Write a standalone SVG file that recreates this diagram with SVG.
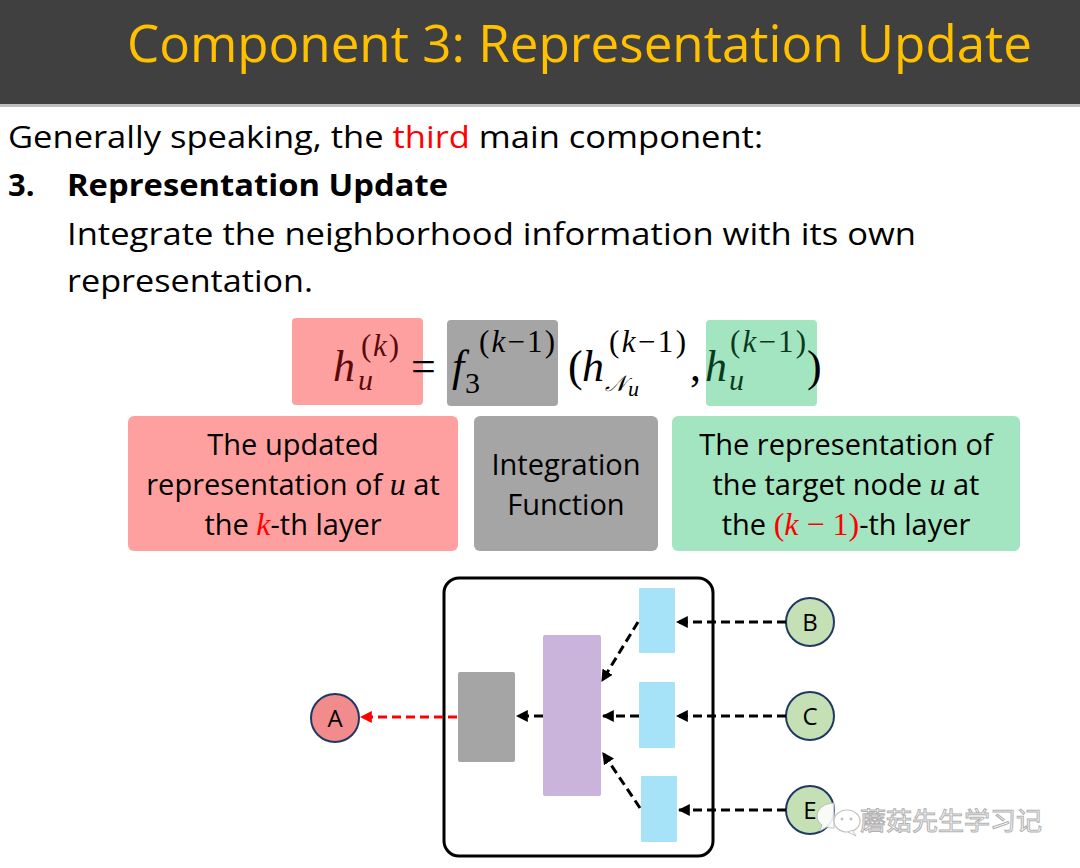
<svg xmlns="http://www.w3.org/2000/svg" width="1080" height="868" viewBox="0 0 1080 868">
<defs>
<style>
.sans{font-family:"Open Sans","Liberation Sans",sans-serif;}
.math{font-family:"Liberation Serif","DejaVu Serif",serif;font-style:italic;}
.up{font-family:"Liberation Serif","DejaVu Serif",serif;font-style:normal;}
.desc{font-family:"Open Sans","Liberation Sans",sans-serif;font-size:29px;fill:#000;text-anchor:middle;}
.dash{fill:none;stroke-width:3;stroke-dasharray:9 5;}
.blk{stroke:#000;}
.red{stroke:#FF0000;}
.blue{fill:#A6E3F8;}
.node{stroke:#1F3864;stroke-width:2;}
.lbl{font-family:"Open Sans","Liberation Sans",sans-serif;font-size:24px;text-anchor:middle;fill:#000;}
</style>
<marker id="ah" viewBox="0 0 10 10" refX="9" refY="5" markerWidth="4" markerHeight="4" orient="auto" markerUnits="strokeWidth">
<path d="M0,0 L10,5 L0,10 z" fill="#000"/>
</marker>
<marker id="ahr" viewBox="0 0 10 10" refX="9" refY="5" markerWidth="4" markerHeight="4" orient="auto" markerUnits="strokeWidth">
<path d="M0,0 L10,5 L0,10 z" fill="#FF0000"/>
</marker>
</defs>
<rect width="1080" height="868" fill="#FFFFFF"/>
<g id="header">
<rect x="0" y="0" width="1080" height="104" fill="#404040"/>
<rect x="0" y="104" width="1080" height="3" fill="#BFBFBF"/>
<text x="127" y="62" class="sans" font-size="52" fill="#FFC000" textLength="905" lengthAdjust="spacingAndGlyphs">Component 3: Representation Update</text>
</g>
<g id="body">
<text x="8" y="148" class="sans" font-size="31" fill="#000" textLength="755" lengthAdjust="spacingAndGlyphs">Generally speaking, the <tspan fill="#FF0000">third</tspan> main component:</text>
<text x="8" y="196" class="sans" font-size="31" font-weight="bold" fill="#000">3.</text>
<text x="67" y="196" class="sans" font-size="31" font-weight="bold" fill="#000" textLength="381" lengthAdjust="spacingAndGlyphs">Representation Update</text>
<text x="67" y="245" class="sans" font-size="31" fill="#000" textLength="849" lengthAdjust="spacingAndGlyphs">Integrate the neighborhood information with its own</text>
<text x="67" y="292" class="sans" font-size="31" fill="#000" textLength="246" lengthAdjust="spacingAndGlyphs">representation.</text>
</g>
<g id="formula">
<rect x="292" y="318" width="131" height="87" rx="4" fill="#FFA0A0"/>
<rect x="447" y="320" width="111" height="86" rx="4" fill="#A5A5A5"/>
<rect x="706" y="320" width="111" height="86" rx="4" fill="#A3E4C1"/>
<text class="math" font-size="44" fill="#5A0A0A" x="333" y="381">h</text>
<text class="math" font-size="30" fill="#5A0A0A" x="358" y="390">u</text>
<text class="math" font-size="31" fill="#5A0A0A" x="361" y="356" textLength="38"><tspan class="up">(</tspan>k<tspan class="up">)</tspan></text>
<text class="up" font-size="44" fill="#000" x="411" y="381">=</text>
<text class="math" font-size="44" fill="#000" x="452" y="381">f</text>
<text class="up" font-size="30" fill="#000" x="465" y="393">3</text>
<text class="math" font-size="31" fill="#000" x="479" y="352" textLength="76"><tspan class="up">(</tspan>k<tspan class="up">−1)</tspan></text>
<text class="up" font-size="44" fill="#000" x="568" y="381">(</text>
<text class="math" font-size="44" fill="#000" x="582" y="381">h</text>
<text class="math" font-size="22" fill="#000" x="605" y="391">𝒩</text>
<text class="math" font-size="22" fill="#000" x="628" y="396">u</text>
<text class="math" font-size="31" fill="#000" x="609" y="352" textLength="77"><tspan class="up">(</tspan>k<tspan class="up">−1)</tspan></text>
<text class="up" font-size="44" fill="#000" x="690" y="381">,</text>
<text class="math" font-size="44" fill="#0A3A1E" x="705" y="381">h</text>
<text class="math" font-size="30" fill="#0A3A1E" x="729" y="390">u</text>
<text class="math" font-size="31" fill="#0A3A1E" x="730" y="352" textLength="76"><tspan class="up">(</tspan>k<tspan class="up">−1)</tspan></text>
<text class="up" font-size="44" fill="#000" x="807" y="381">)</text>
</g>
<g id="desc-updated">
<rect x="128" y="416" width="330" height="135" rx="6" fill="#FFA0A0"/>
<text class="desc" x="293" y="455">The updated</text>
<text class="desc" x="293" y="495">representation of <tspan class="math" font-size="32">u</tspan> at</text>
<text class="desc" x="293" y="535">the <tspan class="math" font-size="32" fill="#FF0000">k</tspan>-th layer</text>
</g>
<g id="desc-integration">
<rect x="474" y="416" width="184" height="135" rx="6" fill="#A5A5A5"/>
<text class="desc" x="566" y="475">Integration</text>
<text class="desc" x="566" y="515">Function</text>
</g>
<g id="desc-target">
<rect x="672" y="416" width="348" height="135" rx="6" fill="#A3E4C1"/>
<text class="desc" x="846" y="455">The representation of</text>
<text class="desc" x="846" y="495">the target node <tspan class="math" font-size="32">u</tspan> at</text>
<text class="desc" x="846" y="535">the <tspan class="up" font-size="32" fill="#FF0000">(<tspan class="math">k</tspan> − 1)</tspan>-th layer</text>
</g>
<g id="frame">
<rect x="444" y="578" width="269" height="278" rx="15" fill="#FFFFFF" stroke="#000" stroke-width="3"/>
</g>
<g id="blue1"><rect class="blue" x="639" y="588" width="36" height="65" rx="1"/></g>
<g id="blue2"><rect class="blue" x="639" y="682" width="36" height="66" rx="1"/></g>
<g id="blue3"><rect class="blue" x="641" y="776" width="36" height="66" rx="1"/></g>
<g id="purple"><rect x="543" y="635" width="58" height="161" rx="2" fill="#CBB4DC"/></g>
<g id="gray"><rect x="458" y="672" width="57" height="90" rx="2" fill="#A5A5A5"/></g>
<g id="nodeA">
<circle class="node" cx="335" cy="718" r="24" fill="#F28B8B"/>
<text class="lbl" x="335" y="727">A</text>
</g>
<g id="nodeB">
<circle class="node" cx="810" cy="622" r="24" fill="#C5E0B4"/>
<text class="lbl" x="810" y="631">B</text>
</g>
<g id="nodeC">
<circle class="node" cx="810" cy="716" r="24" fill="#C5E0B4"/>
<text class="lbl" x="810" y="725">C</text>
</g>
<g id="nodeE">
<circle class="node" cx="810" cy="810" r="24" fill="#C5E0B4"/>
<text class="lbl" x="810" y="819">E</text>
</g>
<g id="connectors">
<line class="dash blk" x1="786" y1="622" x2="677" y2="622" marker-end="url(#ah)"/>
<line class="dash blk" x1="786" y1="716" x2="677" y2="716" marker-end="url(#ah)"/>
<line class="dash blk" x1="786" y1="810" x2="679" y2="810" marker-end="url(#ah)"/>
<line class="dash blk" x1="638" y1="622" x2="602" y2="681" marker-end="url(#ah)"/>
<line class="dash blk" x1="639" y1="716" x2="603" y2="716" marker-end="url(#ah)"/>
<line class="dash blk" x1="640" y1="808" x2="603" y2="753" marker-end="url(#ah)"/>
<line class="dash blk" x1="543" y1="716" x2="517" y2="716" marker-end="url(#ah)"/>
<line class="dash red" x1="457" y1="717" x2="361" y2="717" marker-end="url(#ahr)"/>
</g>
<g id="watermark" opacity="0.9">
<path d="M834,803 c-10,0 -17,6 -17,13 c0,4 2,7 5,9 l-2,6 l7,-4 c2,1 5,1 7,1 z" fill="#FFFFFF" stroke="#BBBBBB" stroke-width="1"/>
<ellipse cx="847" cy="821" rx="13" ry="11" fill="#FFFFFF" stroke="#BBBBBB" stroke-width="1.2"/>
<path d="M852,830 l4,6 l-8,-4 z" fill="#FFFFFF" stroke="#BBBBBB" stroke-width="1"/>
<circle cx="842" cy="819" r="1.5" fill="#BBBBBB"/>
<circle cx="851" cy="819" r="1.5" fill="#BBBBBB"/>
<text x="860" y="830" font-family="'Noto Sans CJK SC',sans-serif" font-size="25" fill="#FFFFFF" stroke="#AAAAAA" stroke-width="1" textLength="182" lengthAdjust="spacingAndGlyphs">蘑菇先生学习记</text>
</g>
</svg>
